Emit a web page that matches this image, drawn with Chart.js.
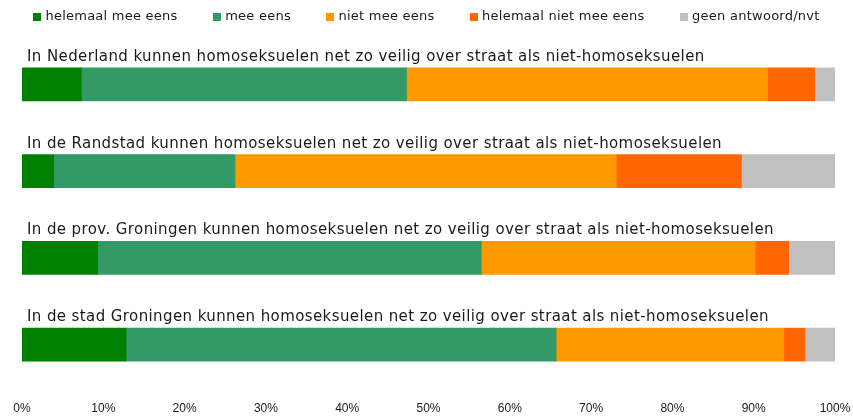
<!DOCTYPE html>
<html>
<head>
<meta charset="utf-8">
<script src="https://cdn.jsdelivr.net/npm/chart.js@4.4.1/dist/chart.umd.min.js"></script>
<style>
html,body{margin:0;padding:0;background:#fff;}
#wrap{width:853px;height:417px;position:relative;}
</style>
</head>
<body>
<div id="wrap"><canvas id="c" width="853" height="417"></canvas></div>
<script>
const categories = [
  "In Nederland kunnen homoseksuelen net zo veilig over straat als niet-homoseksuelen",
  "In de Randstad kunnen homoseksuelen net zo veilig over straat als niet-homoseksuelen",
  "In de prov. Groningen kunnen homoseksuelen net zo veilig over straat als niet-homoseksuelen",
  "In de stad Groningen kunnen homoseksuelen net zo veilig over straat als niet-homoseksuelen"
];
const seriesNames = ["helemaal mee eens", "mee eens", "niet mee eens", "helemaal niet mee eens", "geen antwoord/nvt"];
const helemaalMeeEens = [7.3, 3.9, 9.3, 12.8];
const meeEens = [40.0, 22.3, 47.2, 52.9];
const nietMeeEens = [44.4, 46.9, 33.7, 28.0];
const helemaalNietMeeEens = [5.8, 15.4, 4.1, 2.6];
const geenAntwoord = [2.5, 11.5, 5.7, 3.7];
const xTicks = [0, 10, 20, 30, 40, 50, 60, 70, 80, 90, 100];
const colors = ["#008000", "#339966", "#FF9900", "#FF6600", "#C0C0C0"];

const seriesValues = [helemaalMeeEens, meeEens, nietMeeEens, helemaalNietMeeEens, geenAntwoord];

const textColor = '#1a1a1a';

const categoryTitles = {
  id: 'categoryTitles',
  afterDatasetsDraw(chart) {
    const ctx = chart.ctx;
    const meta = chart.getDatasetMeta(0);
    ctx.save();
    ctx.font = '15px "DejaVu Sans", Verdana, sans-serif';
    if ('letterSpacing' in ctx) ctx.letterSpacing = '0.4px';
    ctx.fillStyle = textColor;
    ctx.textBaseline = 'alphabetic';
    ctx.textAlign = 'left';
    chart.data.labels.forEach((cat, i) => {
      const bar = meta.data[i];
      const top = bar.y - bar.height / 2;
      ctx.fillText(cat, chart.chartArea.left + 5, top - 7);
    });
    ctx.restore();
  }
};

const topLegend = {
  id: 'topLegend',
  afterDraw(chart) {
    const ctx = chart.ctx;
    ctx.save();
    ctx.font = '13px "DejaVu Sans", Verdana, sans-serif';
    if ('letterSpacing' in ctx) ctx.letterSpacing = '0.25px';
    const box = 8, boxGap = 4, itemGap = 35.5;
    const items = chart.data.datasets.map(ds => ({ text: ds.label, color: ds.backgroundColor, w: ctx.measureText(ds.label).width }));
    const total = items.reduce((s, it) => s + box + boxGap + it.w, 0) + itemGap * (items.length - 1);
    let x = (chart.width - total) / 2;
    const cy = 17;
    ctx.textBaseline = 'middle';
    ctx.textAlign = 'left';
    items.forEach(it => {
      ctx.fillStyle = it.color;
      ctx.fillRect(Math.round(x), cy - box / 2, box, box);
      ctx.fillStyle = textColor;
      ctx.fillText(it.text, x + box + boxGap, cy);
      x += box + boxGap + it.w + itemGap;
    });
    ctx.restore();
  }
};

new Chart(document.getElementById('c'), {
  type: 'bar',
  data: {
    labels: categories,
    datasets: seriesValues.map((vals, i) => ({
      label: seriesNames[i],
      data: vals,
      backgroundColor: colors[i],
      borderWidth: 0,
      barThickness: 33
    }))
  },
  options: {
    indexAxis: 'y',
    responsive: false,
    animation: false,
    layout: { padding: { left: 22, right: 18, top: 41, bottom: 2 } },
    scales: {
      x: {
        stacked: true,
        min: 0, max: 100,
        grid: { display: false, drawTicks: false },
        border: { display: false },
        afterBuildTicks(scale) { scale.ticks = xTicks.map(v => ({ value: v })); },
        afterFit(scale) { scale.paddingLeft = 0; scale.paddingRight = 0; scale.height = 27; },
        ticks: {
          callback: v => v + '%',
          color: textColor,
          padding: 13,
          maxRotation: 0,
          autoSkip: false,
          font: { family: '"Liberation Sans", Arial, sans-serif', size: 12 }
        }
      },
      y: {
        stacked: true,
        display: false
      }
    },
    plugins: {
      legend: { display: false },
      tooltip: { enabled: false }
    }
  },
  plugins: [categoryTitles, topLegend]
});
</script>
</body>
</html>
